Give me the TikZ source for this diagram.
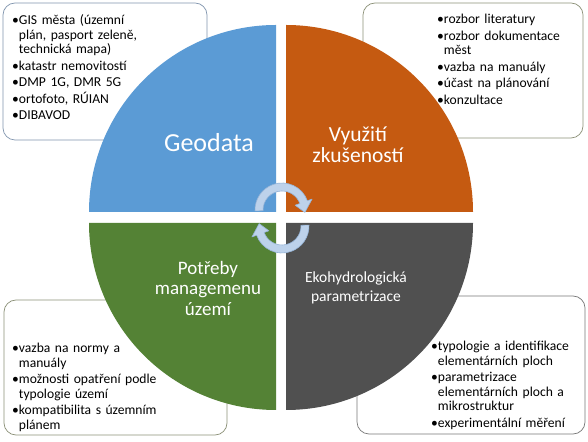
\documentclass[tikz,border=0pt]{standalone}
\usepackage{fontspec}
\setmainfont{Carlito}
\usetikzlibrary{calc}
\definecolor{qblue}{RGB}{91,155,213}
\definecolor{qorange}{RGB}{197,90,17}
\definecolor{qgreen}{RGB}{84,130,53}
\definecolor{qdark}{RGB}{80,80,80}
\definecolor{arrfill}{RGB}{189,210,235}
\definecolor{arrline}{RGB}{150,180,215}
\definecolor{bordA}{RGB}{130,150,175}
\definecolor{bordB}{RGB}{140,145,120}
\definecolor{bordC}{RGB}{120,120,120}
\newsavebox\bulletbox
\newcommand\bitem[1]{\sbox\bulletbox{•}\par\noindent\hangindent=\wd\bulletbox\hangafter=1\usebox\bulletbox#1\par\vspace{2pt}}
\tikzset{
  infobox/.style={draw=#1, line width=0.7pt, rounded corners=12pt, fill=white},
  listtext/.style={anchor=north west, inner sep=0pt, text width=200pt, align=left,
    font=\fontsize{13.6}{14.5}\selectfont},
  quadlabel/.style={text=white, align=center, inner sep=0pt},
  cyclearrow/.style={fill=arrfill, draw=arrline, line width=0.6pt, line join=round},
}
\begin{document}
\begin{tikzpicture}[x=1pt,y=1pt]
\fill[white] (0,0) rectangle (588,441);
\useasboundingbox (0,0) rectangle (588,441);
% boxes
\draw[infobox=bordA] (3,438) rectangle (207,301);
\draw[infobox=bordB] (363,438) rectangle (583,303);
\draw[infobox=bordB] (4,141) rectangle (227,6);
\draw[infobox=bordC] (357,145) rectangle (585,7);
% quadrants
\fill[qblue] (276,229) -- (89,229) arc[start angle=180,end angle=90,radius=187] -- cycle;
\fill[qorange] (286,229) -- (286,416) arc[start angle=90,end angle=0,radius=187] -- cycle;
\fill[qgreen] (276,218) -- (89,218) arc[start angle=180,end angle=270,radius=187] -- cycle;
\fill[qdark] (286,218) -- (286,31) arc[start angle=270,end angle=360,radius=187] -- cycle;
% cycle arrows
\coordinate (ct) at (282,231);
\coordinate (cb) at (282,215);
\path[cyclearrow] ($(ct)+(182:19)$) arc[start angle=182,end angle=20,radius=19]
  -- ($(ct)+(20:14)$) -- ($(ct)+(-6:23)$) -- ($(ct)+(20:32)$) -- ($(ct)+(20:27)$)
  arc[start angle=20,end angle=182,radius=27] -- cycle;
\path[cyclearrow] ($(cb)+(2:19)$) arc[start angle=362,end angle=200,radius=19]
  -- ($(cb)+(200:14)$) -- ($(cb)+(174:23)$) -- ($(cb)+(200:32)$) -- ($(cb)+(200:27)$)
  arc[start angle=200,end angle=362,radius=27] -- cycle;
% quadrant labels
\node[quadlabel, font=\fontsize{26}{30}\selectfont] (geo) at (209,298) {Geodata};
\node[quadlabel, font=\fontsize{21.5}{21}\selectfont] (vyu) at (358,296) {Využití\\zkušeností};
\node[quadlabel, font=\fontsize{19}{20.5}\selectfont] (pot) at (208,153) {Potřeby\\managemenu\\území};
\node[quadlabel, font=\fontsize{15.5}{19.5}\selectfont] (eko) at (356,153) {Ekohydrologická\\parametrizace};
% lists
\node[listtext] (tl) at (12,431) {%
\bitem{GIS města (územní\newline plán, pasport zeleně,\newline technická mapa)}%
\bitem{katastr nemovitostí}%
\bitem{DMP 1G, DMR 5G}%
\bitem{ortofoto, RÚIAN}%
\bitem{DIBAVOD}};
\node[listtext] (tr) at (437,432) {%
\bitem{rozbor literatury}%
\bitem{rozbor dokumentace\newline měst}%
\bitem{vazba na manuály}%
\bitem{účast na plánování}%
\bitem{konzultace}};
\node[listtext] (bl) at (12,103) {%
\bitem{vazba na normy a\newline manuály}%
\bitem{možnosti opatření podle\newline typologie území}%
\bitem{kompatibilita s územním\newline plánem}};
\node[listtext] (br) at (431,105) {%
\bitem{typologie a identifikace\newline elementárních ploch}%
\bitem{parametrizace\newline elementárních ploch a\newline mikrostruktur}%
\bitem{experimentální měření}};
\end{tikzpicture}
\end{document}
